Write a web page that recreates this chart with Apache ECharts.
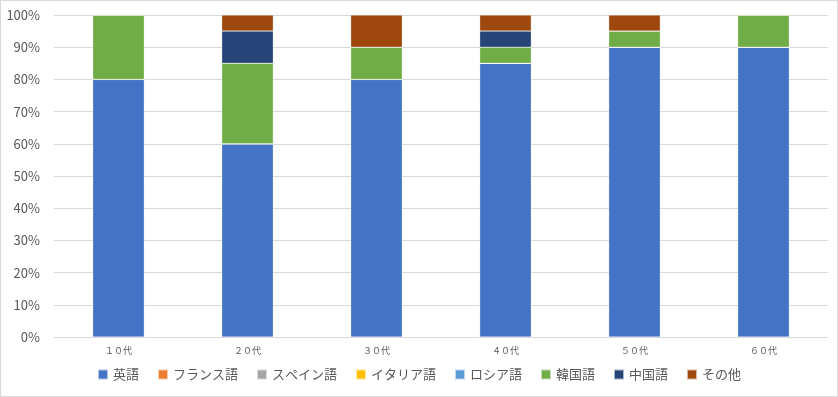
<!DOCTYPE html>
<html><head><meta charset="utf-8">
<script src="https://cdn.jsdelivr.net/npm/echarts@6/dist/echarts.min.js"></script>
<style>html,body{margin:0;padding:0;background:#fff}#c{width:838px;height:397px;box-sizing:border-box;border:1px solid #d9d9d9}</style>
</head><body><div id="c"></div>
<script>
const categories = ['１０代','２０代','３０代','４０代','５０代','６０代'];
const seriesNames = ['英語','フランス語','スペイン語','イタリア語','ロシア語','韓国語','中国語','その他'];
const english = [80,60,80,85,90,90];
const french = [0,0,0,0,0,0];
const spanish = [0,0,0,0,0,0];
const italian = [0,0,0,0,0,0];
const russian = [0,0,0,0,0,0];
const korean = [20,25,10,5,5,10];
const chinese = [0,10,0,5,0,0];
const other = [0,5,10,5,5,0];
const colors = ['#4472C4','#ED7D31','#A5A5A5','#FFC000','#5B9BD5','#70AD47','#264478','#9E480E'];
const values = [english,french,spanish,italian,russian,korean,chinese,other];
const font = '"Noto Sans CJK JP", sans-serif';
const chart = echarts.init(document.getElementById('c'));
chart.setOption({
  animation:false,
  color: colors,
  grid:{left:53,right:9,top:14,bottom:59},
  legend:{bottom:10,left:'center',itemWidth:10,itemHeight:10,itemGap:18,icon:'rect',
    textStyle:{fontFamily:font,fontSize:13,color:'#595959'},data:seriesNames},
  xAxis:{type:'category',data:categories,
    axisLine:{lineStyle:{color:'#d9d9d9'}},axisTick:{show:false},
    axisLabel:{fontFamily:font,fontSize:9,color:'#595959',margin:9}},
  yAxis:{type:'value',min:0,max:100,interval:10,
    axisLabel:{formatter:'{value}%',fontFamily:font,fontSize:13,color:'#595959',margin:14},
    splitLine:{lineStyle:{color:'#d9d9d9'}},axisLine:{show:false},axisTick:{show:false}},
  series: seriesNames.map((n,i)=>({name:n,type:'bar',stack:'a',barWidth:'40%',data:values[i],
    itemStyle:{borderColor:'rgba(255,255,255,0.6)',borderWidth:0.5}}))
});
</script></body></html>
